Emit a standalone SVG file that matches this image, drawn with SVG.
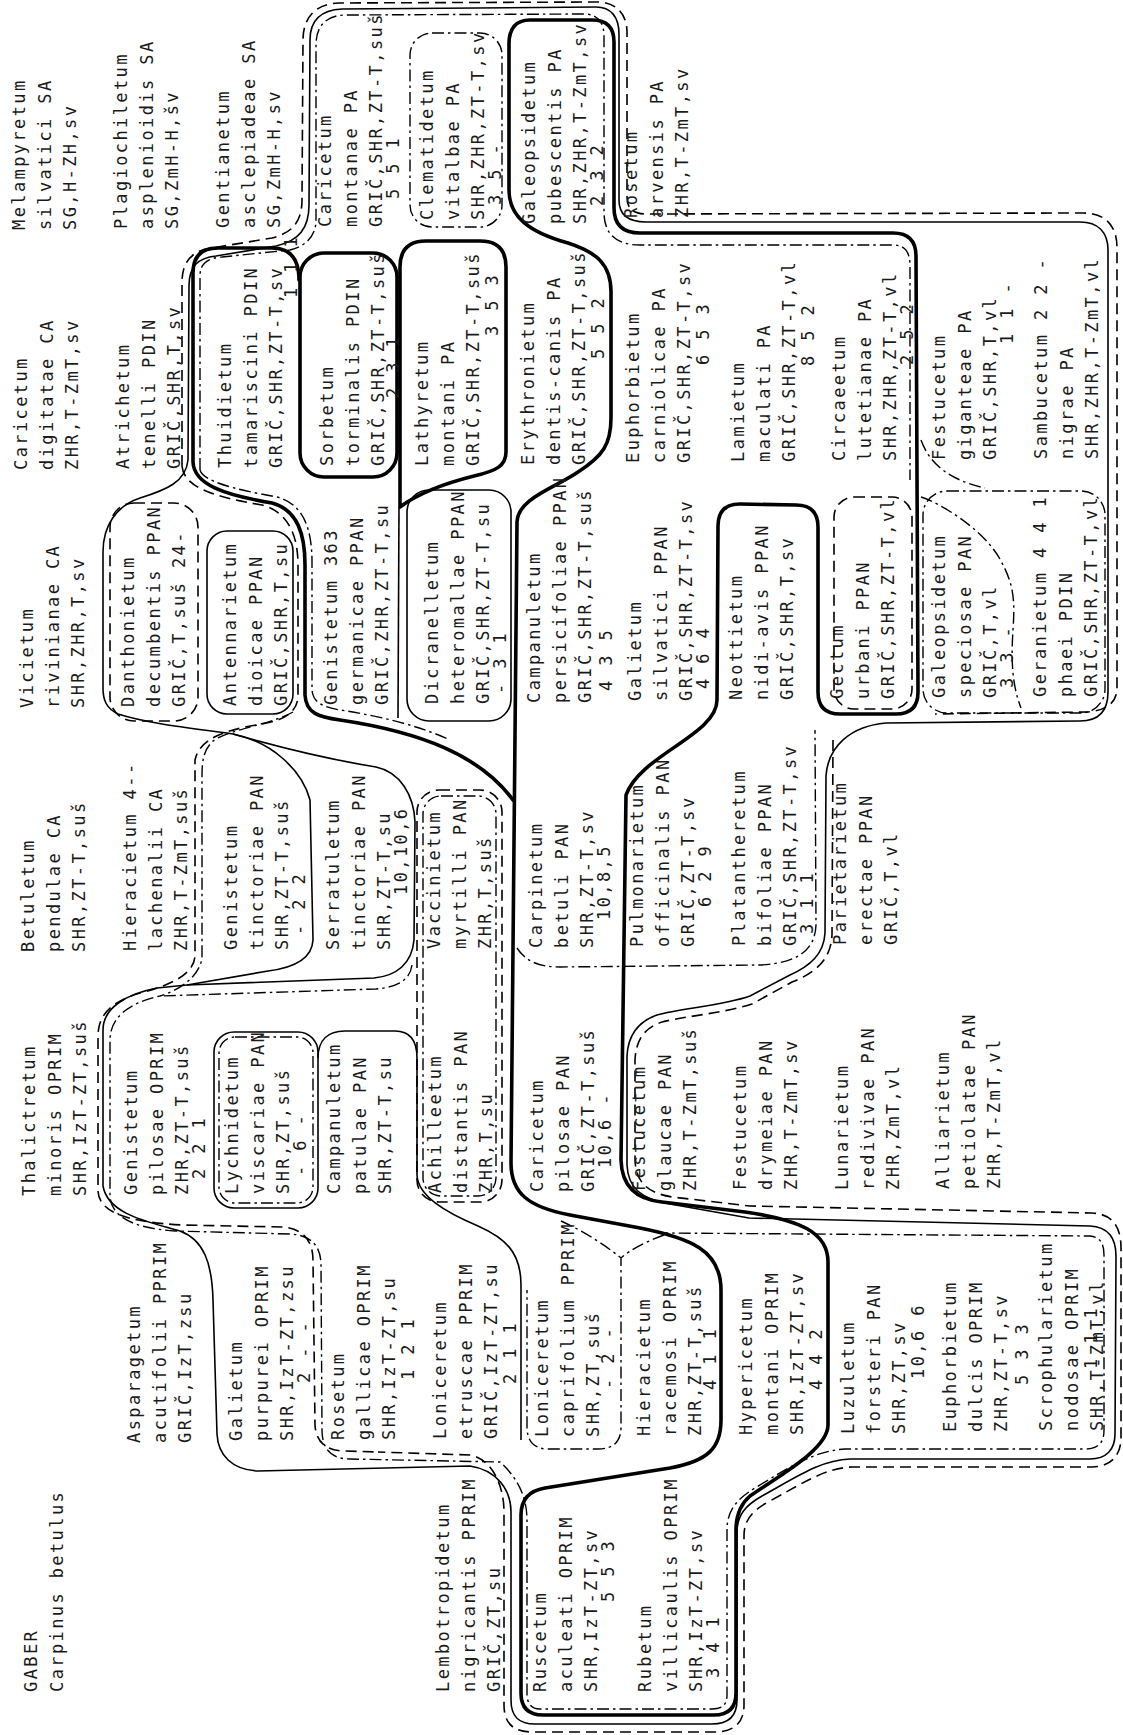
<svg xmlns="http://www.w3.org/2000/svg" width="1123" height="1735" viewBox="0 0 1123 1735">
<style>
.t{font-family:"DejaVu Sans Mono","Liberation Mono",monospace;font-size:17px;letter-spacing:2.4px;fill:#1a1a1a}
.k{fill:none;stroke:#000;stroke-width:3.6;stroke-linecap:round;stroke-linejoin:round}
.s{fill:none;stroke:#000;stroke-width:1.6}
.d{fill:none;stroke:#000;stroke-width:1.6;stroke-dasharray:11 6}
.dd{fill:none;stroke:#000;stroke-width:1.4;stroke-dasharray:12 4 2.5 4}
</style>
<rect width="1123" height="1735" fill="#fff"/>
<g id="connectors">
<path class="k" d="M530,20 L592,20 Q614,20 614,42 L614,208 Q614,233 640,233 L893,233 Q916,233 916,256 L918,692 Q918,714 896,714 L840,714 Q818,714 818,692 L818,527 Q818,505 796,505 L740,504 Q718,504 718,526 L717,700 C717,735 640,755 626,795 L621,1160 Q622,1198 662,1202 L745,1212 C800,1220 828,1232 828,1262 L828,1425 C828,1450 775,1478 750,1496 Q736,1508 736,1530 L736,1693 Q736,1715 714,1715 L543,1715 Q521,1715 521,1693 L521,1515 Q521,1492 545,1488 L670,1468 C708,1461 721,1448 721,1420 L721,1290 C721,1250 690,1238 640,1228 L570,1215 C528,1207 511,1193 511,1163 L517,522 C518,498 555,488 578,472 C603,456 611,444 611,418 L611,292 C611,264 596,252 568,243 C528,232 509,216 509,190 L509,44 Q509,20 530,20 Z"/>
<path class="k" d="M299,280 Q299,248 272,248 L218,248 Q193,248 193,273 L193,462 C194,485 225,495 272,503 C298,510 305,535 305,565 L305,695 C306,713 318,717 340,720 C420,732 480,755 513,800"/>
<rect class="k" x="300" y="253" width="97" height="224" rx="24"/>
<path class="k" d="M426,241 L480,241 Q506,241 506,267 L506,452 C506,466 496,471 474,476 C450,482 420,492 400,507 L400,267 Q400,241 426,241 Z"/>
<path class="s" d="M233,734 C190,728 150,724 118,714 C106,708 103,700 103,688 L103,552 C103,526 116,506 140,498 C166,490 186,482 188,460 L189,286 C189,266 198,258 216,256 L276,246 C299,241 309,228 309,205 L310,40 C310,20 321,10 342,9 L596,7 C611,7 619,17 619,34 L619,200 C619,214 628,222 646,222 L1080,222 C1098,222 1108,232 1108,250 L1108,692 C1108,711 1099,721 1080,721 L886,723 C851,726 828,746 826,776 L825,933 C824,954 810,966 790,975 L750,996 C722,1006 682,1008 657,1015 C637,1022 628,1036 627,1056 L627,1165 C628,1188 641,1199 670,1204 L749,1218 L1090,1226 C1108,1227 1116,1237 1116,1256 L1115,1434 C1115,1450 1106,1459 1090,1459 L850,1459 C820,1460 795,1478 762,1496 C746,1505 737,1515 737,1532 L737,1700 C737,1716 728,1724 712,1724 L535,1724 C518,1724 511,1716 511,1700 L511,1512 C511,1490 497,1470 470,1466 L258,1471 C232,1470 218,1455 217,1434 L213,1300 C212,1263 204,1240 180,1231 C150,1222 108,1215 103,1186 L103,1030 C103,1008 126,994 157,988 L187,985"/>
<path class="s" d="M187,985 L374,978 C396,976 412,964 414,940 L415,822 C414,795 400,772 376,767 C320,758 268,744 233,734"/>
<path class="s" d="M233,734 C272,742 302,770 310,800 L313,940 C312,960 292,968 268,971 L187,985"/>
<path class="s" d="M399,507 L398,718"/>
<rect class="s" x="207" y="531" width="86" height="183" rx="20"/>
<rect class="s" x="407" y="490" width="104" height="231" rx="22"/>
<rect class="s" x="214" y="1032" width="104" height="176" rx="20"/>
<path class="s" d="M318,1058 C318,1040 328,1031 345,1031 L395,1031 C410,1031 417,1040 417,1058 L417,1175 C418,1196 445,1212 478,1226 C505,1238 521,1252 521,1285 L521,1440"/>
<path class="d" d="M182,466 L182,282 C182,259 195,250 212,248 L272,238 C292,233 302,222 302,200 L303,40 C303,17 316,4 338,3 L597,2 C616,2 627,14 627,32 L627,197 C627,209 633,214 648,214 L1083,213 C1106,213 1117,226 1117,248 L1117,688 C1117,703 1106,711 1086,712 L935,714"/>
<path class="d" d="M182,466 C184,488 215,497 262,505 C288,512 298,535 298,565 L298,695 C298,712 285,720 262,724 C225,730 200,738 195,760 L195,955 C195,975 168,986 140,993 C110,1002 98,1016 98,1036 L98,1190 C98,1212 126,1222 182,1225 L282,1227 C302,1228 313,1240 313,1260 L315,1425 C316,1442 326,1451 345,1451 L378,1452"/>
<path class="d" d="M833,740 L832,935 C831,960 815,973 792,982 L752,1004 C724,1013 686,1016 662,1022 C644,1028 636,1040 635,1060 L635,1160 C636,1183 648,1193 672,1197 L750,1206 L1092,1213 C1112,1214 1121,1226 1121,1248 L1121,1438 C1121,1456 1110,1467 1092,1467 L852,1467 C824,1468 800,1485 768,1502 C752,1511 744,1520 744,1536 L744,1705 C744,1723 734,1732 714,1732 L532,1732 C513,1732 504,1723 504,1705 L504,1512 C504,1488 494,1460 470,1455 L378,1452"/>
<rect class="d" x="110" y="503" width="88" height="218" rx="24"/>
<rect class="d" x="417" y="790" width="85" height="412" rx="22"/>
<rect class="d" x="834" y="497" width="78" height="212" rx="20"/>
<path class="dd" d="M200,470 L200,276 C200,263 208,258 222,257 L290,250 C306,246 316,236 316,220 L316,45 C316,26 326,15 346,15 L584,14 C597,14 604,22 604,36 L604,212 C604,234 616,245 640,245 L893,245 C905,245 910,252 910,266 L910,480"/>
<path class="dd" d="M200,470 C203,481 232,489 277,497 C304,504 312,530 312,562 L312,690 C313,702 322,707 340,710 C380,716 420,726 450,740"/>
<path class="dd" d="M293,712 C270,725 225,730 212,742 C204,750 202,760 202,775 L202,955 C202,975 180,990 160,996"/>
<rect class="dd" x="410" y="33" width="92" height="194" rx="22"/>
<rect class="dd" x="219" y="1037" width="94" height="166" rx="16"/>
<rect class="dd" x="423" y="796" width="73" height="400" rx="18"/>
<rect class="dd" x="923" y="491" width="182" height="222" rx="24"/>
<path class="dd" d="M921,497 C940,503 985,530 1001,561 C1014,585 1015,600 1013,630 C1011,660 1012,685 1021,708"/>
<path class="dd" d="M921,440 C930,465 950,480 985,488"/>
<path class="dd" d="M517,948 C526,962 540,967 560,967 L760,965 C798,963 815,950 816,925 L815,730"/>
<path class="dd" d="M412,965 C410,980 398,987 376,989 L160,996 C128,1003 110,1018 110,1040 L110,1195 C110,1215 130,1228 175,1231 L290,1234 C310,1235 321,1245 321,1265 L322,1430 C322,1450 332,1459 350,1459 L500,1462 C520,1480 527,1500 527,1520 L527,1694 C527,1703 531,1709 540,1709 L712,1709 C722,1709 727,1705 727,1695 L727,1530 C727,1512 735,1500 755,1488 C785,1470 812,1451 845,1449 L1085,1449 C1098,1449 1104,1443 1104,1430 L1104,1255 C1104,1243 1100,1237 1090,1236 L664,1233"/>
<path class="dd" d="M561,1221 C585,1232 605,1245 621,1258 M664,1235 C645,1242 630,1250 621,1258 L621,1427 C621,1442 613,1449 598,1449 L548,1449 C534,1449 527,1441 527,1427 L527,1290"/>
</g>
<g id="n-melampyretum"><text class="t" transform="translate(25 230) rotate(-90)"><tspan x="0" y="0">Melampyretum</tspan><tspan x="0" y="25.5">silvatici SA</tspan><tspan x="0" y="51">SG,H-ZH,sv</tspan></text></g>
<g id="n-plagiochiletum"><text class="t" transform="translate(127 229) rotate(-90)"><tspan x="0" y="0">Plagiochiletum</tspan><tspan x="0" y="25.5">asplenioidis SA</tspan><tspan x="0" y="51">SG,ZmH-H,šv</tspan></text></g>
<g id="n-gentianetum"><text class="t" transform="translate(229 228) rotate(-90)"><tspan x="0" y="0">Gentianetum</tspan><tspan x="0" y="25.5">asclepiadeae SA</tspan><tspan x="0" y="51">SG,ZmH-H,sv</tspan></text></g>
<g id="n-caricetum-montanae"><text class="t" transform="translate(331 227) rotate(-90)"><tspan x="0" y="0">Caricetum</tspan><tspan x="0" y="25.5">montanae PA</tspan><tspan x="0" y="51">GRIČ,SHR,ZT-T,suš</tspan><tspan x="28" y="68">5 5 1</tspan></text></g>
<g id="n-clematidetum"><text class="t" transform="translate(433 220) rotate(-90)"><tspan x="0" y="0">Clematidetum</tspan><tspan x="0" y="25.5">vitalbae PA</tspan><tspan x="0" y="51">SHR,ZHR,ZT-T,sv</tspan><tspan x="15" y="68">3 5 -</tspan></text></g>
<g id="n-galeopsidetum-pubescentis"><text class="t" transform="translate(535 224) rotate(-90)"><tspan x="0" y="0">Galeopsidetum</tspan><tspan x="0" y="25.5">pubescentis PA</tspan><tspan x="0" y="51">SHR,ZHR,T-ZmT,sv</tspan><tspan x="18" y="68">2 3 2</tspan></text></g>
<g id="n-rosetum-arvensis"><text class="t" transform="translate(637 218) rotate(-90)"><tspan x="0" y="0">Rosetum</tspan><tspan x="0" y="25.5">arvensis PA</tspan><tspan x="0" y="51">ZHR,T-ZmT,sv</tspan></text></g>
<g id="n-caricetum-digitatae"><text class="t" transform="translate(27 470) rotate(-90)"><tspan x="0" y="0">Caricetum</tspan><tspan x="0" y="25.5">digitatae CA</tspan><tspan x="0" y="51">ZHR,T-ZmT,sv</tspan></text></g>
<g id="n-atrichetum"><text class="t" transform="translate(129 469) rotate(-90)"><tspan x="0" y="0">Atrichetum</tspan><tspan x="0" y="25.5">tenelli PDIN</tspan><tspan x="0" y="51">GRIČ,SHR,T,sv</tspan></text></g>
<g id="n-thuidietum"><text class="t" transform="translate(231 468) rotate(-90)"><tspan x="0" y="0">Thuidietum</tspan><tspan x="0" y="25.5">tamariscini PDIN</tspan><tspan x="0" y="51">GRIČ,SHR,ZT-T,sv</tspan><tspan x="170" y="66">1 1 1</tspan></text></g>
<g id="n-sorbetum"><text class="t" transform="translate(333 466) rotate(-90)"><tspan x="0" y="0">Sorbetum</tspan><tspan x="0" y="25.5">torminalis PDIN</tspan><tspan x="0" y="51">GRIČ,SHR,ZT-T,suš</tspan><tspan x="68" y="66">2 3 1</tspan></text></g>
<g id="n-lathyretum"><text class="t" transform="translate(428 466) rotate(-90)"><tspan x="0" y="0">Lathyretum</tspan><tspan x="0" y="25.5">montani PA</tspan><tspan x="0" y="51">GRIČ,SHR,ZT-T,suš</tspan><tspan x="130" y="70">3 5 3</tspan></text></g>
<g id="n-erythronietum"><text class="t" transform="translate(534 465) rotate(-90)"><tspan x="0" y="0">Erythronietum</tspan><tspan x="0" y="25.5">dentis-canis PA</tspan><tspan x="0" y="51">GRIČ,SHR,ZT-T,suš</tspan><tspan x="106" y="70">5 5 2</tspan></text></g>
<g id="n-euphorbietum-carniolicae"><text class="t" transform="translate(639 463) rotate(-90)"><tspan x="0" y="0">Euphorbietum</tspan><tspan x="0" y="25.5">carniolicae PA</tspan><tspan x="0" y="51">GRIČ,SHR,ZT-T,sv</tspan><tspan x="98" y="70">6 5 3</tspan></text></g>
<g id="n-lamietum"><text class="t" transform="translate(744 462) rotate(-90)"><tspan x="0" y="0">Lamietum</tspan><tspan x="0" y="25.5">maculati PA</tspan><tspan x="0" y="51">GRIČ,SHR,ZT-T,vl</tspan><tspan x="96" y="70">8 5 2</tspan></text></g>
<g id="n-circaeetum"><text class="t" transform="translate(845 461) rotate(-90)"><tspan x="0" y="0">Circaeetum</tspan><tspan x="0" y="25.5">lutetianae PA</tspan><tspan x="0" y="51">SHR,ZHR,ZT-T,vl</tspan><tspan x="96" y="68">2 5 2</tspan></text></g>
<g id="n-festucetum-giganteae"><text class="t" transform="translate(945 460) rotate(-90)"><tspan x="0" y="0">Festucetum</tspan><tspan x="0" y="25.5">giganteae PA</tspan><tspan x="0" y="51">GRIČ,SHR,T,vl</tspan><tspan x="116" y="68">1 1 -</tspan></text></g>
<g id="n-sambucetum"><text class="t" transform="translate(1047 459) rotate(-90)"><tspan x="0" y="0">Sambucetum 2 2 -</tspan><tspan x="0" y="25.5">nigrae PA</tspan><tspan x="0" y="51">SHR,ZHR,T-ZmT,vl</tspan></text></g>
<g id="n-vicietum"><text class="t" transform="translate(33 708) rotate(-90)"><tspan x="0" y="0">Vicietum</tspan><tspan x="0" y="25.5">rivinianae CA</tspan><tspan x="0" y="51">SHR,ZHR,T,sv</tspan></text></g>
<g id="n-danthonietum"><text class="t" transform="translate(134 707) rotate(-90)"><tspan x="0" y="0">Danthonietum</tspan><tspan x="0" y="25.5">decumbentis PPAN</tspan><tspan x="0" y="51">GRIČ,T,suš 24-</tspan></text></g>
<g id="n-antennarietum"><text class="t" transform="translate(236 706) rotate(-90)"><tspan x="0" y="0">Antennarietum</tspan><tspan x="0" y="25.5">dioicae PPAN</tspan><tspan x="0" y="51">GRIČ,SHR,T,su</tspan></text></g>
<g id="n-genistetum-germanicae"><text class="t" transform="translate(337 705) rotate(-90)"><tspan x="0" y="0">Genistetum 363</tspan><tspan x="0" y="25.5">germanicae PPAN</tspan><tspan x="0" y="51">GRIČ,ZHR,ZT-T,su</tspan></text></g>
<g id="n-dicranelletum"><text class="t" transform="translate(438 704) rotate(-90)"><tspan x="0" y="0">Dicranelletum</tspan><tspan x="0" y="25.5">heteromallae PPAN</tspan><tspan x="0" y="51">GRIČ,SHR,ZT-T,su</tspan><tspan x="10" y="68">- 3 1</tspan></text></g>
<g id="n-campanuletum-persicifoliae"><text class="t" transform="translate(540 703) rotate(-90)"><tspan x="0" y="0">Campanuletum</tspan><tspan x="0" y="25.5">persicifoliae PPAN</tspan><tspan x="0" y="51">GRIČ,SHR,ZT-T,suš</tspan><tspan x="12" y="72">4 3 5</tspan></text></g>
<g id="n-galietum-silvatici"><text class="t" transform="translate(641 701) rotate(-90)"><tspan x="0" y="0">Galietum</tspan><tspan x="0" y="25.5">silvatici PPAN</tspan><tspan x="0" y="51">GRIČ,SHR,ZT-T,sv</tspan><tspan x="12" y="68">4 6 4</tspan></text></g>
<g id="n-neottietum"><text class="t" transform="translate(742 700) rotate(-90)"><tspan x="0" y="0">Neottietum</tspan><tspan x="0" y="25.5">nidi-avis PPAN</tspan><tspan x="0" y="51">GRIČ,SHR,T,sv</tspan></text></g>
<g id="n-gectum"><text class="t" transform="translate(843 699) rotate(-90)"><tspan x="0" y="0">Gectum</tspan><tspan x="0" y="25.5">urbani PPAN</tspan><tspan x="0" y="51">GRIČ,SHR,ZT-T,vl</tspan></text></g>
<g id="n-galeopsidetum-speciosae"><text class="t" transform="translate(945 698) rotate(-90)"><tspan x="0" y="0">Galeopsidetum</tspan><tspan x="0" y="25.5">speciosae PAN</tspan><tspan x="0" y="51">GRIČ,T,vl</tspan><tspan x="10" y="68">3 3 -</tspan></text></g>
<g id="n-geranietum"><text class="t" transform="translate(1046 697) rotate(-90)"><tspan x="0" y="0">Geranietum 4 4 1</tspan><tspan x="0" y="25.5">phaei PDIN</tspan><tspan x="0" y="51">GRIČ,SHR,ZT-T,vl</tspan></text></g>
<g id="n-betuletum"><text class="t" transform="translate(34 952) rotate(-90)"><tspan x="0" y="0">Betuletum</tspan><tspan x="0" y="25.5">pendulae CA</tspan><tspan x="0" y="51">SHR,ZT-T,suš</tspan></text></g>
<g id="n-hieracietum-lachenalii"><text class="t" transform="translate(136 951) rotate(-90)"><tspan x="0" y="0">Hieracietum 4--</tspan><tspan x="0" y="25.5">lachenalii CA</tspan><tspan x="0" y="51">ZHR,T-ZmT,suš</tspan></text></g>
<g id="n-genistetum-tinctoriae"><text class="t" transform="translate(237 950) rotate(-90)"><tspan x="0" y="0">Genistetum</tspan><tspan x="0" y="25.5">tinctoriae PAN</tspan><tspan x="0" y="51">SHR,ZT-T,suš</tspan><tspan x="15" y="68">- 2 2</tspan></text></g>
<g id="n-serratuletum"><text class="t" transform="translate(339 950) rotate(-90)"><tspan x="0" y="0">Serratuletum</tspan><tspan x="0" y="25.5">tinctoriae PAN</tspan><tspan x="0" y="51">SHR,ZT-T,su</tspan><tspan x="55" y="68">10,10,6</tspan></text></g>
<g id="n-vaccinietum"><text class="t" transform="translate(440 949) rotate(-90)"><tspan x="0" y="0">Vaccinietum</tspan><tspan x="0" y="25.5">myrtilli PAN</tspan><tspan x="0" y="51">ZHR,T,suš</tspan></text></g>
<g id="n-carpinetum"><text class="t" transform="translate(542 948) rotate(-90)"><tspan x="0" y="0">Carpinetum</tspan><tspan x="0" y="25.5">betuli PAN</tspan><tspan x="0" y="51">SHR,ZT-T,sv</tspan><tspan x="28" y="68">10,8,5</tspan></text></g>
<g id="n-pulmonarietum"><text class="t" transform="translate(643 947) rotate(-90)"><tspan x="0" y="0">Pulmonarietum</tspan><tspan x="0" y="25.5">officinalis PAN</tspan><tspan x="0" y="51">GRIČ,ZT-T,sv</tspan><tspan x="40" y="68">6 2 9</tspan></text></g>
<g id="n-platantheretum"><text class="t" transform="translate(745 946) rotate(-90)"><tspan x="0" y="0">Platantheretum</tspan><tspan x="0" y="25.5">bifoliae PPAN</tspan><tspan x="0" y="51">GRIČ,SHR,ZT-T,sv</tspan><tspan x="12" y="68">3 1 1</tspan></text></g>
<g id="n-parietarietum"><text class="t" transform="translate(846 945) rotate(-90)"><tspan x="0" y="0">Parietarietum</tspan><tspan x="0" y="25.5">erectae PPAN</tspan><tspan x="0" y="51">GRIČ,T,vl</tspan></text></g>
<g id="n-thalictretum"><text class="t" transform="translate(35 1196) rotate(-90)"><tspan x="0" y="0">Thalictretum</tspan><tspan x="0" y="25.5">minoris OPRIM</tspan><tspan x="0" y="51">SHR,IzT-ZT,suš</tspan></text></g>
<g id="n-genistetum-pilosae"><text class="t" transform="translate(137 1195) rotate(-90)"><tspan x="0" y="0">Genistetum</tspan><tspan x="0" y="25.5">pilosae OPRIM</tspan><tspan x="0" y="51">ZHR,ZT-T,suš</tspan><tspan x="16" y="68">2 2 1</tspan></text></g>
<g id="n-lychnidetum"><text class="t" transform="translate(238 1194) rotate(-90)"><tspan x="0" y="0">Lychnidetum</tspan><tspan x="0" y="25.5">viscariae PAN</tspan><tspan x="0" y="51">SHR,ZT,suš</tspan><tspan x="18" y="68">- 6 -</tspan></text></g>
<g id="n-campanuletum-patulae"><text class="t" transform="translate(340 1194) rotate(-90)"><tspan x="0" y="0">Campanuletum</tspan><tspan x="0" y="25.5">patulae PAN</tspan><tspan x="0" y="51">SHR,ZT-T,su</tspan></text></g>
<g id="n-achilleetum"><text class="t" transform="translate(441 1193) rotate(-90)"><tspan x="0" y="0">Achilleetum</tspan><tspan x="0" y="25.5">distantis PAN</tspan><tspan x="0" y="51">ZHR,T,su</tspan></text></g>
<g id="n-caricetum-pilosae"><text class="t" transform="translate(543 1192) rotate(-90)"><tspan x="0" y="0">Caricetum</tspan><tspan x="0" y="25.5">pilosae PAN</tspan><tspan x="0" y="51">GRIČ,ZT-T,suš</tspan><tspan x="24" y="68">10,6 -</tspan></text></g>
<g id="n-festucetum-glaucae"><text class="t" transform="translate(645 1191) rotate(-90)"><tspan x="0" y="0">Festucetum</tspan><tspan x="0" y="25.5">glaucae PAN</tspan><tspan x="0" y="51">ZHR,T-ZmT,suš</tspan></text></g>
<g id="n-festucetum-drymeiae"><text class="t" transform="translate(746 1190) rotate(-90)"><tspan x="0" y="0">Festucetum</tspan><tspan x="0" y="25.5">drymeiae PAN</tspan><tspan x="0" y="51">ZHR,T-ZmT,sv</tspan></text></g>
<g id="n-lunarietum"><text class="t" transform="translate(848 1190) rotate(-90)"><tspan x="0" y="0">Lunarietum</tspan><tspan x="0" y="25.5">redivivae PAN</tspan><tspan x="0" y="51">ZHR,ZmT,vl</tspan></text></g>
<g id="n-alliarietum"><text class="t" transform="translate(949 1189) rotate(-90)"><tspan x="0" y="0">Alliarietum</tspan><tspan x="0" y="25.5">petiolatae PAN</tspan><tspan x="0" y="51">ZHR,T-ZmT,vl</tspan></text></g>
<g id="n-asparagetum"><text class="t" transform="translate(140 1443) rotate(-90)"><tspan x="0" y="0">Asparagetum</tspan><tspan x="0" y="25.5">acutifolii PPRIM</tspan><tspan x="0" y="51">GRIČ,IzT,zsu</tspan></text></g>
<g id="n-galietum-purpurei"><text class="t" transform="translate(242 1441) rotate(-90)"><tspan x="0" y="0">Galietum</tspan><tspan x="0" y="25.5">purpurei OPRIM</tspan><tspan x="0" y="51">SHR,IzT-ZT,zsu</tspan><tspan x="58" y="68">2 - -</tspan></text></g>
<g id="n-rosetum-gallicae"><text class="t" transform="translate(344 1440) rotate(-90)"><tspan x="0" y="0">Rosetum</tspan><tspan x="0" y="25.5">gallicae OPRIM</tspan><tspan x="0" y="51">SHR,IzT-ZT,su</tspan><tspan x="60" y="70">1 2 1</tspan></text></g>
<g id="n-loniceretum-etruscae"><text class="t" transform="translate(446 1439) rotate(-90)"><tspan x="0" y="0">Loniceretum</tspan><tspan x="0" y="25.5">etruscae PPRIM</tspan><tspan x="0" y="51">GRIČ,IzT-ZT,su</tspan><tspan x="55" y="70">2 1 1</tspan></text></g>
<g id="n-loniceretum-caprifolium"><text class="t" transform="translate(548 1437) rotate(-90)"><tspan x="0" y="0">Loniceretum</tspan><tspan x="0" y="25.5">caprifolium PPRIM</tspan><tspan x="0" y="51">SHR,ZT,suš</tspan><tspan x="48" y="66">- 2 -</tspan></text></g>
<g id="n-hieracietum-racemosi"><text class="t" transform="translate(650 1436) rotate(-90)"><tspan x="0" y="0">Hieracietum</tspan><tspan x="0" y="25.5">racemosi OPRIM</tspan><tspan x="0" y="51">ZHR,ZT-T,suš</tspan><tspan x="46" y="66">4 1 1</tspan></text></g>
<g id="n-hypericetum"><text class="t" transform="translate(752 1435) rotate(-90)"><tspan x="0" y="0">Hypericetum</tspan><tspan x="0" y="25.5">montani OPRIM</tspan><tspan x="0" y="51">SHR,IzT-ZT,sv</tspan><tspan x="45" y="70">4 4 2</tspan></text></g>
<g id="n-luzuletum"><text class="t" transform="translate(854 1434) rotate(-90)"><tspan x="0" y="0">Luzuletum</tspan><tspan x="0" y="25.5">forsteri PAN</tspan><tspan x="0" y="51">SHR,ZT,sv</tspan><tspan x="55" y="70">10,6 6</tspan></text></g>
<g id="n-euphorbietum-dulcis"><text class="t" transform="translate(956 1432) rotate(-90)"><tspan x="0" y="0">Euphorbietum</tspan><tspan x="0" y="25.5">dulcis OPRIM</tspan><tspan x="0" y="51">ZHR,ZT-T,sv</tspan><tspan x="47" y="72">5 3 3</tspan></text></g>
<g id="n-scrophularietum"><text class="t" transform="translate(1052 1431) rotate(-90)"><tspan x="0" y="0">Scrophularietum</tspan><tspan x="0" y="25.5">nodosae OPRIM</tspan><tspan x="0" y="51">SHR,T-ZmT,vl</tspan><tspan x="62" y="45">1 1 1</tspan></text></g>
<g id="n-gaber"><text class="t" transform="translate(37 1692) rotate(-90)"><tspan x="0" y="0">GABER</tspan><tspan x="0" y="25.5">Carpinus betulus</tspan></text></g>
<g id="n-lembotropidetum"><text class="t" transform="translate(449 1692) rotate(-90)"><tspan x="0" y="0">Lembotropidetum</tspan><tspan x="0" y="25.5">nigricantis PPRIM</tspan><tspan x="0" y="51">GRIČ,ZT,su</tspan></text></g>
<g id="n-ruscetum"><text class="t" transform="translate(546 1692) rotate(-90)"><tspan x="0" y="0">Ruscetum</tspan><tspan x="0" y="25.5">aculeati OPRIM</tspan><tspan x="0" y="51">SHR,IzT-ZT,sv</tspan><tspan x="90" y="68">5 5 3</tspan></text></g>
<g id="n-rubetum"><text class="t" transform="translate(651 1692) rotate(-90)"><tspan x="0" y="0">Rubetum</tspan><tspan x="0" y="25.5">villicaulis OPRIM</tspan><tspan x="0" y="51">SHR,IzT-ZT,sv</tspan><tspan x="14" y="68">3 4 1</tspan></text></g>
</svg>
